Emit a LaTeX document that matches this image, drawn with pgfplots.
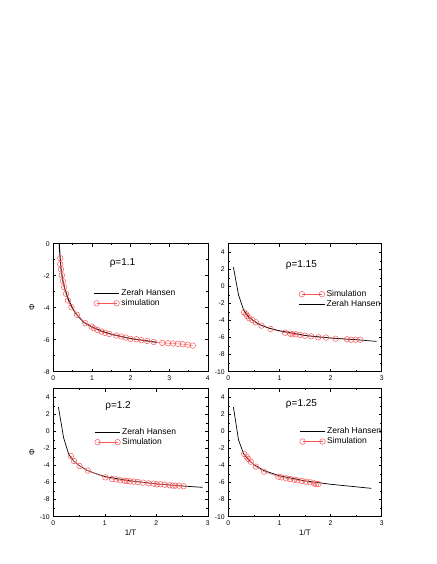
\documentclass[border=0pt]{standalone}
\usepackage{fontspec}
\setmainfont{Liberation Sans}
\usepackage{pgfplots}
\pgfplotsset{compat=1.18}
\definecolor{simred}{RGB}{250,85,85}
\tikzset{rho/.style={font=\fontsize{10}{11}\selectfont, anchor=center}}
\pgfplotsset{
  panel/.style={
    scale only axis, width=154.5pt, height=128pt, anchor=south west,
    xmin=0, tick align=inside, minor tick num=1,
    major tick length=3pt, minor tick length=1.5pt,
    tick style={line width=0.5pt, black},
    axis line style={line width=0.6pt},
    tick label style={font=\fontsize{6.8}{7}\selectfont},
    /pgf/number format/assume math mode=true,
    xticklabel style={yshift=-1pt},
    label style={font=\fontsize{8}{9}\selectfont},
    legend style={draw=none, fill=none, inner sep=0pt, row sep=2.5pt,
      font=\fontsize{8.5}{9}\selectfont, cells={anchor=west},
      nodes={inner ysep=0pt, inner xsep=1.5pt}},
  },
  zh/.style={black, line width=0.7pt, no marks,
    legend image code/.code={
      \path (-2.8pt,0pt) -- (22.8pt,0pt);
      \draw[##1] (0pt,0pt) -- (20pt,0pt);}},
  sim/.style={simred, line width=0.4pt, mark=o, mark size=2.8pt,
    mark options={line width=0.5pt},
    legend image code/.code={
      \draw[##1] plot coordinates {(0pt,0pt) (20pt,0pt)};}},
}
\begin{document}
\begin{tikzpicture}
\path[use as bounding box] (0pt,0pt) rectangle (436pt,564pt);

% rho = 1.1
\begin{axis}[panel, at={(53.3pt,192.3pt)}, xmax=4, ymin=-8, ymax=0,
  xtick={0,1,2,3,4}, ytick={-8,-6,-4,-2,0},
  ylabel={Φ}, ylabel style={at={(axis description cs:-0.138,0.5)}, anchor=center},
  legend style={at={(0.258,0.645)}, anchor=north west}]
\addplot[zh, line width=1pt] coordinates {
  (0.14,0.6) (0.16,-0.3) (0.2,-1.6) (0.25,-2.35) (0.3,-2.85) (0.4,-3.55)
  (0.5,-4.05) (0.6,-4.42) (0.8,-4.93) (1.0,-5.2) (1.25,-5.47) (1.5,-5.66)
  (2.0,-5.93) (2.5,-6.1) (2.7,-6.17)
};
\addlegendentry{Zerah Hansen}
\addplot[sim] coordinates {
  (0.18,-0.90) (0.18,-1.28) (0.20,-1.60) (0.22,-1.97) (0.25,-2.34) (0.28,-2.71)
  (0.33,-3.13) (0.38,-3.55) (0.47,-3.97) (0.61,-4.44) (0.83,-4.97) (0.99,-5.18)
  (1.05,-5.28) (1.14,-5.39) (1.25,-5.49) (1.34,-5.57) (1.45,-5.64) (1.63,-5.74)
  (1.76,-5.80) (1.88,-5.87) (2.00,-5.95) (2.15,-5.97) (2.28,-6.03) (2.43,-6.08)
  (2.60,-6.14) (2.82,-6.20) (2.97,-6.22) (3.10,-6.24) (3.23,-6.26) (3.35,-6.28)
  (3.48,-6.31) (3.61,-6.37)
};
\addlegendentry{simulation}
\node[rho] at (axis description cs:0.448,0.849) {ρ=1.1};
\end{axis}

% rho = 1.15
\begin{axis}[panel, at={(228.3pt,192.3pt)}, width=153.4pt, xmax=3, ymin=-10, ymax=5,
  xtick={0,1,2,3}, ytick={-10,-8,...,4},
  legend style={at={(0.458,0.637)}, anchor=north west}]
\addplot[sim] coordinates {
  (0.31,-3.04) (0.35,-3.27) (0.37,-3.50) (0.41,-3.74) (0.47,-3.94) (0.54,-4.21)
  (0.65,-4.60) (0.83,-5.00) (1.11,-5.43) (1.21,-5.54) (1.26,-5.62) (1.32,-5.62)
  (1.40,-5.70) (1.50,-5.78) (1.62,-5.86) (1.76,-5.97) (1.91,-6.00) (2.10,-6.13)
  (2.32,-6.20) (2.40,-6.25) (2.49,-6.25) (2.58,-6.25)
};
\addlegendentry{Simulation}
\addplot[zh] coordinates {
  (0.1,2.24) (0.2,-1.0) (0.3,-2.8) (0.4,-3.6) (0.5,-4.05) (0.6,-4.45) (0.8,-4.9)
  (1.0,-5.2) (1.5,-5.75) (2.0,-6.05) (2.5,-6.25) (2.9,-6.45)
};
\addlegendentry{Zerah Hansen}
\node[rho] at (axis description cs:0.476,0.836) {ρ=1.15};
\end{axis}

% rho = 1.2
\begin{axis}[panel, at={(53.3pt,47.3pt)}, xmax=3, ymin=-10, ymax=5,
  xtick={0,1,2,3}, ytick={-10,-8,...,4},
  ylabel={Φ}, ylabel style={at={(axis description cs:-0.138,0.5)}, anchor=center},
  xlabel={1/T}, xlabel style={at={(axis description cs:0.5,-0.127)}, anchor=center},
  legend style={at={(0.265,0.693)}, anchor=north west}]
\addplot[zh] coordinates {
  (0.1,2.83) (0.2,-0.75) (0.3,-2.7) (0.4,-3.5) (0.5,-4.0) (0.65,-4.55) (0.8,-4.9)
  (1.0,-5.3) (1.5,-5.8) (2.0,-6.15) (2.5,-6.4) (2.9,-6.56)
};
\addlegendentry{Zerah Hansen}
\addplot[sim] coordinates {
  (0.34,-2.88) (0.40,-3.47) (0.51,-4.06) (0.67,-4.60) (1.01,-5.39) (1.14,-5.58)
  (1.22,-5.62) (1.30,-5.74) (1.38,-5.78) (1.43,-5.82) (1.49,-5.86) (1.56,-5.90)
  (1.64,-5.93) (1.74,-6.01) (1.85,-6.09) (1.95,-6.13) (2.01,-6.20) (2.08,-6.20)
  (2.16,-6.25) (2.26,-6.32) (2.32,-6.36) (2.37,-6.36) (2.44,-6.36) (2.53,-6.44)
};
\addlegendentry{Simulation}
\node[rho] at (axis description cs:0.419,0.862) {ρ=1.2};
\end{axis}

% rho = 1.25
\begin{axis}[panel, at={(228.3pt,47.3pt)}, width=153.4pt, xmax=3, ymin=-10, ymax=5,
  xtick={0,1,2,3}, ytick={-10,-8,...,4},
  xlabel={1/T}, xlabel style={at={(axis description cs:0.5,-0.127)}, anchor=center},
  legend style={at={(0.462,0.698)}, anchor=north west}]
\addplot[zh] coordinates {
  (0.1,2.83) (0.2,-1.0) (0.3,-2.65) (0.4,-3.35) (0.5,-3.9) (0.7,-4.6) (1.0,-5.2)
  (1.5,-5.8) (2.0,-6.2) (2.5,-6.5) (2.8,-6.68)
};
\addlegendentry{Zerah Hansen}
\addplot[sim] coordinates {
  (0.31,-2.65) (0.36,-2.96) (0.39,-3.24) (0.44,-3.55) (0.54,-4.13) (0.70,-4.72)
  (0.98,-5.31) (1.04,-5.39) (1.13,-5.50) (1.21,-5.58) (1.29,-5.66) (1.35,-5.74)
  (1.44,-5.82) (1.52,-5.90) (1.60,-5.97) (1.68,-6.09) (1.72,-6.17) (1.76,-6.17)
};
\addlegendentry{Simulation}
\node[rho] at (axis description cs:0.477,0.878) {ρ=1.25};
\end{axis}
\end{tikzpicture}
\end{document}
